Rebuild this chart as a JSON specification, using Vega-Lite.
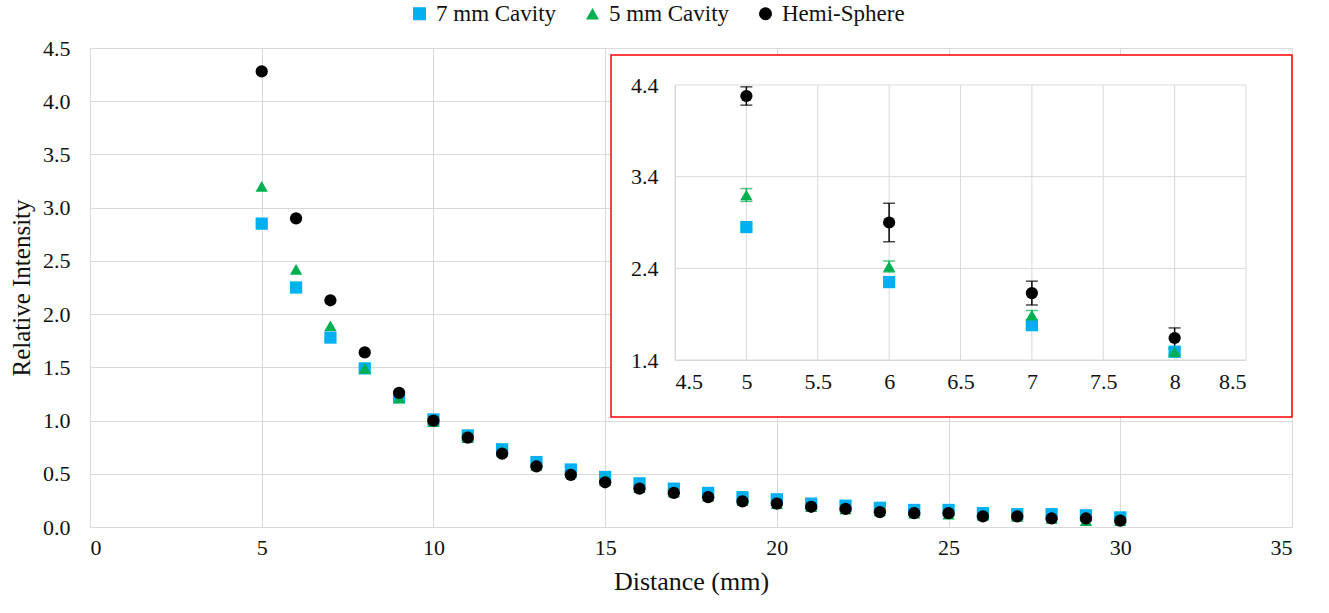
{
  "$schema": "https://vega.github.io/schema/vega-lite/v6.json",
  "width": 1202,
  "height": 479,
  "autosize": "none",
  "padding": {"left": 90, "top": 48, "right": 37, "bottom": 86},
  "datasets": {
    "pts": [
      {"d": 5, "series": "7 mm Cavity", "v": 2.85}, {"d": 6, "series": "7 mm Cavity", "v": 2.25}, {"d": 7, "series": "7 mm Cavity", "v": 1.78}, {"d": 8, "series": "7 mm Cavity", "v": 1.49}, {"d": 9, "series": "7 mm Cavity", "v": 1.22}, {"d": 10, "series": "7 mm Cavity", "v": 1.01}, {"d": 11, "series": "7 mm Cavity", "v": 0.86}, {"d": 12, "series": "7 mm Cavity", "v": 0.73}, {"d": 13, "series": "7 mm Cavity", "v": 0.61}, {"d": 14, "series": "7 mm Cavity", "v": 0.54}, {"d": 15, "series": "7 mm Cavity", "v": 0.47}, {"d": 16, "series": "7 mm Cavity", "v": 0.41}, {"d": 17, "series": "7 mm Cavity", "v": 0.36}, {"d": 18, "series": "7 mm Cavity", "v": 0.32}, {"d": 19, "series": "7 mm Cavity", "v": 0.28}, {"d": 20, "series": "7 mm Cavity", "v": 0.26}, {"d": 21, "series": "7 mm Cavity", "v": 0.22}, {"d": 22, "series": "7 mm Cavity", "v": 0.20}, {"d": 23, "series": "7 mm Cavity", "v": 0.18}, {"d": 24, "series": "7 mm Cavity", "v": 0.16}, {"d": 25, "series": "7 mm Cavity", "v": 0.16}, {"d": 26, "series": "7 mm Cavity", "v": 0.13}, {"d": 27, "series": "7 mm Cavity", "v": 0.12}, {"d": 28, "series": "7 mm Cavity", "v": 0.12}, {"d": 29, "series": "7 mm Cavity", "v": 0.11}, {"d": 30, "series": "7 mm Cavity", "v": 0.09},
      {"d": 5, "series": "5 mm Cavity", "v": 3.20}, {"d": 6, "series": "5 mm Cavity", "v": 2.42}, {"d": 7, "series": "5 mm Cavity", "v": 1.89}, {"d": 8, "series": "5 mm Cavity", "v": 1.49}, {"d": 9, "series": "5 mm Cavity", "v": 1.21}, {"d": 10, "series": "5 mm Cavity", "v": 0.99}, {"d": 11, "series": "5 mm Cavity", "v": 0.84}, {"d": 12, "series": "5 mm Cavity", "v": 0.71}, {"d": 13, "series": "5 mm Cavity", "v": 0.58}, {"d": 14, "series": "5 mm Cavity", "v": 0.51}, {"d": 15, "series": "5 mm Cavity", "v": 0.44}, {"d": 16, "series": "5 mm Cavity", "v": 0.37}, {"d": 17, "series": "5 mm Cavity", "v": 0.33}, {"d": 18, "series": "5 mm Cavity", "v": 0.29}, {"d": 19, "series": "5 mm Cavity", "v": 0.25}, {"d": 20, "series": "5 mm Cavity", "v": 0.22}, {"d": 21, "series": "5 mm Cavity", "v": 0.19}, {"d": 22, "series": "5 mm Cavity", "v": 0.17}, {"d": 23, "series": "5 mm Cavity", "v": 0.15}, {"d": 24, "series": "5 mm Cavity", "v": 0.13}, {"d": 25, "series": "5 mm Cavity", "v": 0.12}, {"d": 26, "series": "5 mm Cavity", "v": 0.11}, {"d": 27, "series": "5 mm Cavity", "v": 0.10}, {"d": 28, "series": "5 mm Cavity", "v": 0.08}, {"d": 29, "series": "5 mm Cavity", "v": 0.06}, {"d": 30, "series": "5 mm Cavity", "v": 0.06},
      {"d": 5, "series": "Hemi-Sphere", "v": 4.28}, {"d": 6, "series": "Hemi-Sphere", "v": 2.90}, {"d": 7, "series": "Hemi-Sphere", "v": 2.13}, {"d": 8, "series": "Hemi-Sphere", "v": 1.64}, {"d": 9, "series": "Hemi-Sphere", "v": 1.26}, {"d": 10, "series": "Hemi-Sphere", "v": 1.00}, {"d": 11, "series": "Hemi-Sphere", "v": 0.84}, {"d": 12, "series": "Hemi-Sphere", "v": 0.69}, {"d": 13, "series": "Hemi-Sphere", "v": 0.57}, {"d": 14, "series": "Hemi-Sphere", "v": 0.49}, {"d": 15, "series": "Hemi-Sphere", "v": 0.42}, {"d": 16, "series": "Hemi-Sphere", "v": 0.36}, {"d": 17, "series": "Hemi-Sphere", "v": 0.32}, {"d": 18, "series": "Hemi-Sphere", "v": 0.28}, {"d": 19, "series": "Hemi-Sphere", "v": 0.24}, {"d": 20, "series": "Hemi-Sphere", "v": 0.22}, {"d": 21, "series": "Hemi-Sphere", "v": 0.19}, {"d": 22, "series": "Hemi-Sphere", "v": 0.17}, {"d": 23, "series": "Hemi-Sphere", "v": 0.14}, {"d": 24, "series": "Hemi-Sphere", "v": 0.13}, {"d": 25, "series": "Hemi-Sphere", "v": 0.13}, {"d": 26, "series": "Hemi-Sphere", "v": 0.10}, {"d": 27, "series": "Hemi-Sphere", "v": 0.10}, {"d": 28, "series": "Hemi-Sphere", "v": 0.08}, {"d": 29, "series": "Hemi-Sphere", "v": 0.08}, {"d": 30, "series": "Hemi-Sphere", "v": 0.06}
    ],
    "errs": [
      {"d": 5, "series": "7 mm Cavity", "v": 2.85, "err": 0.03}, {"d": 6, "series": "7 mm Cavity", "v": 2.25, "err": 0.03}, {"d": 7, "series": "7 mm Cavity", "v": 1.78, "err": 0.03}, {"d": 8, "series": "7 mm Cavity", "v": 1.49, "err": 0.03},
      {"d": 5, "series": "5 mm Cavity", "v": 3.20, "err": 0.07}, {"d": 6, "series": "5 mm Cavity", "v": 2.42, "err": 0.06}, {"d": 7, "series": "5 mm Cavity", "v": 1.89, "err": 0.05}, {"d": 8, "series": "5 mm Cavity", "v": 1.49, "err": 0.04},
      {"d": 5, "series": "Hemi-Sphere", "v": 4.28, "err": 0.10}, {"d": 6, "series": "Hemi-Sphere", "v": 2.90, "err": 0.21}, {"d": 7, "series": "Hemi-Sphere", "v": 2.13, "err": 0.13}, {"d": 8, "series": "Hemi-Sphere", "v": 1.64, "err": 0.11}
    ],
    "igx": [{"gx": 4.5}, {"gx": 5}, {"gx": 5.5}, {"gx": 6}, {"gx": 6.5}, {"gx": 7}, {"gx": 7.5}, {"gx": 8}, {"gx": 8.5}],
    "igy": [{"gy": 1.4}, {"gy": 2.4}, {"gy": 3.4}, {"gy": 4.4}]
  },
  "config": {
    "view": {"stroke": null},
    "font": "Liberation Serif",
    "axis": {
      "labelFont": "Liberation Serif", "titleFont": "Liberation Serif",
      "labelFontSize": 22, "titleFontSize": 25, "titleFontWeight": "normal",
      "labelColor": "#111", "titleColor": "#111",
      "gridColor": "#d9d9d9", "domainColor": "#d9d9d9", "ticks": false
    },
    "legend": {"labelFont": "Liberation Serif", "labelFontSize": 23, "labelColor": "#111"}
  },
  "resolve": {"scale": {"x": "independent", "y": "independent"}, "axis": {"x": "independent", "y": "independent"}},
  "layer": [
    {
      "data": {"name": "pts"},
      "mark": {"type": "point", "filled": true, "size": 150, "opacity": 1},
      "encoding": {
        "x": {"field": "d", "type": "quantitative", "scale": {"domain": [0, 35], "nice": false, "zero": true},
              "axis": {"title": "Distance (mm)", "values": [0, 5, 10, 15, 20, 25, 30, 35], "format": "d", "grid": true, "labelPadding": 10, "titlePadding": 10, "orient": "bottom", "labelFont": "Liberation Serif", "labelFontSize": 22, "titleFontSize": 26}},
        "y": {"field": "v", "type": "quantitative", "scale": {"domain": [0, 4.5], "nice": false},
              "axis": {"title": "Relative Intensity", "values": [0, 0.5, 1, 1.5, 2, 2.5, 3, 3.5, 4, 4.5], "format": ".1f", "grid": true, "labelPadding": 20, "titlePadding": 8, "orient": "left", "labelFont": "Liberation Serif", "labelFontSize": 22, "titleFontSize": 25}},
        "color": {"field": "series", "type": "nominal",
                  "scale": {"domain": ["7 mm Cavity", "5 mm Cavity", "Hemi-Sphere"], "range": ["#00B0F0", "#00B050", "#000000"]},
                  "legend": {"title": null, "orient": "none", "direction": "horizontal", "legendX": 318, "legendY": -46, "symbolSize": 170, "columnPadding": 24, "labelOffset": 5, "symbolStrokeWidth": 0, "labelFont": "Liberation Serif", "labelFontSize": 23}},
        "shape": {"field": "series", "type": "nominal",
                  "scale": {"domain": ["7 mm Cavity", "5 mm Cavity", "Hemi-Sphere"], "range": ["square", "triangle-up", "circle"]},
                  "legend": {"title": null, "orient": "none", "direction": "horizontal", "legendX": 318, "legendY": -46, "symbolSize": 170, "columnPadding": 24, "labelOffset": 5, "symbolStrokeWidth": 0, "labelFont": "Liberation Serif", "labelFontSize": 23}}
      }
    },
    {
      "layer": [
        {
          "data": {"values": [{"k": 1}]},
          "mark": {"type": "rect", "fill": "white", "stroke": "#ff0000", "strokeWidth": 1.5, "clip": false},
          "encoding": {
            "x": {"datum": 4.052, "type": "quantitative",
                  "scale": {"domain": [4.5, 8.5], "range": [585, 1156], "nice": false, "zero": false},
                  "axis": {"title": null, "orient": "bottom", "offset": -167, "values": [4.5, 5, 5.5, 6, 6.5, 7, 7.5, 8, 8.5], "format": ".1~f", "grid": false, "labelPadding": 11, "zindex": 1, "labelFont": "Liberation Serif", "labelFontSize": 22}},
            "x2": {"datum": 8.822},
            "y": {"datum": 0.778, "type": "quantitative",
                  "scale": {"domain": [1.4, 4.4], "range": [312, 37], "nice": false, "zero": false},
                  "axis": {"title": null, "orient": "left", "offset": -585, "values": [1.4, 2.4, 3.4, 4.4], "format": ".1f", "grid": false, "labelPadding": 17, "zindex": 1, "labelFont": "Liberation Serif", "labelFontSize": 22}},
            "y2": {"datum": 4.727}
          }
        },
        {
          "data": {"name": "igx"},
          "mark": {"type": "rule", "color": "#d9d9d9", "strokeWidth": 1},
          "encoding": {
            "x": {"field": "gx", "type": "quantitative", "axis": {"title": null}},
            "y": {"datum": 1.4, "type": "quantitative", "axis": {"title": null}},
            "y2": {"datum": 4.4}
          }
        },
        {
          "data": {"name": "igy"},
          "mark": {"type": "rule", "color": "#d9d9d9", "strokeWidth": 1},
          "encoding": {
            "y": {"field": "gy", "type": "quantitative", "axis": {"title": null}},
            "x": {"datum": 4.5, "type": "quantitative", "axis": {"title": null}},
            "x2": {"datum": 8.5}
          }
        },
        {
          "data": {"name": "errs"},
          "mark": {"type": "errorbar", "ticks": {"size": 12}, "thickness": 1.5},
          "encoding": {
            "x": {"field": "d", "type": "quantitative", "axis": {"title": null}},
            "y": {"field": "v", "type": "quantitative", "axis": {"title": null}},
            "yError": {"field": "err"},
            "color": {"field": "series", "type": "nominal"}
          }
        },
        {
          "data": {"name": "pts"},
          "transform": [{"filter": "datum.d <= 8"}],
          "mark": {"type": "point", "filled": true, "size": 150, "opacity": 1},
          "encoding": {
            "x": {"field": "d", "type": "quantitative", "axis": {"title": null}},
            "y": {"field": "v", "type": "quantitative", "axis": {"title": null}},
            "color": {"field": "series", "type": "nominal"},
            "shape": {"field": "series", "type": "nominal"}
          }
        }
      ]
    }
  ]
}
